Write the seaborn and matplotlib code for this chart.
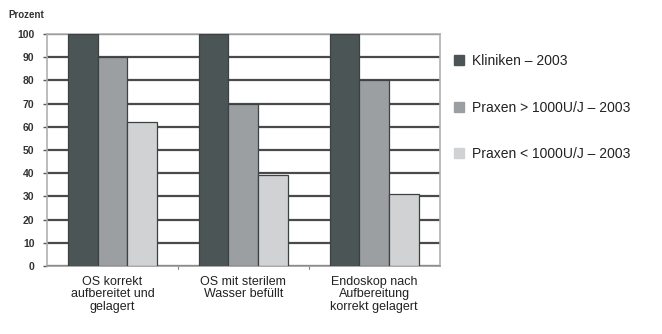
import matplotlib
matplotlib.use("Agg")
import matplotlib.pyplot as plt
import seaborn as sns
import pandas as pd
from matplotlib.patches import Patch

categories = ["OS korrekt\naufbereitet und\ngelagert",
              "OS mit sterilem\nWasser befüllt",
              "Endoskop nach\nAufbereitung\nkorrekt gelagert"]
series = ["Kliniken – 2003", "Praxen > 1000U/J – 2003", "Praxen < 1000U/J – 2003"]
kliniken = [100, 100, 100]
praxen_gross = [90, 70, 80]
praxen_klein = [62, 39, 31]
yticks = list(range(0, 101, 10))

colors = ["#4b5556", "#9b9fa2", "#d1d2d4"]

rows = []
for s, vals in zip(series, [kliniken, praxen_gross, praxen_klein]):
    for c, v in zip(categories, vals):
        rows.append({"Kategorie": c, "Serie": s, "Prozent": v})
df = pd.DataFrame(rows)

sns.set_style("white")
plt.rcParams["font.family"] = ["Liberation Sans", "DejaVu Sans"]

fig = plt.figure(figsize=(6.62, 3.34), dpi=100)
ax = fig.add_axes([0.071, 0.204, 0.593, 0.694])

sns.barplot(data=df, x="Kategorie", y="Prozent", hue="Serie", hue_order=series,
            palette=colors, width=0.68, edgecolor="#3c4242", linewidth=0.9,
            saturation=1, ax=ax, legend=False, zorder=3)

ax.set_ylim(0, 100)
ax.set_xlim(-0.5, 2.5)
ax.set_yticks(yticks)
ax.set_yticklabels([str(t) for t in yticks], fontsize=7.5, fontweight="bold",
                   color="#333333")
ax.yaxis.grid(True, color="#4a4a4a", linewidth=1.6, zorder=0)
ax.set_axisbelow(True)
ax.set_xlabel("")
ax.set_ylabel("")
ax.set_xticks([0, 1, 2])
ax.set_xticklabels(categories, fontsize=9, color="#222222", linespacing=1.08)
ax.tick_params(axis="x", length=0, pad=7)
ax.tick_params(axis="y", length=3, width=1, color="#555555", pad=6, left=True)
for x in [0.5, 1.5]:
    ax.plot([x, x], [0, -1.2], color="#888888", lw=0.8, clip_on=False)
for side in ["left", "top", "right", "bottom"]:
    ax.spines[side].set_visible(True)
    ax.spines[side].set_color("#b0b0b0")
    ax.spines[side].set_linewidth(1.2)
ax.spines["bottom"].set_color("#999999")

fig.text(0.012, 0.945, "Prozent", fontsize=7, fontweight="bold", color="#333333")

handles = [Patch(facecolor=c, edgecolor=c) for c in colors]
leg = fig.legend(handles, series, loc="upper left", bbox_to_anchor=(0.667, 0.876),
                 frameon=False, fontsize=10, handlelength=0.7, handleheight=0.7,
                 handletextpad=0.6, labelspacing=2.35, labelcolor="#222222")

fig.savefig("out.png", dpi=100)
